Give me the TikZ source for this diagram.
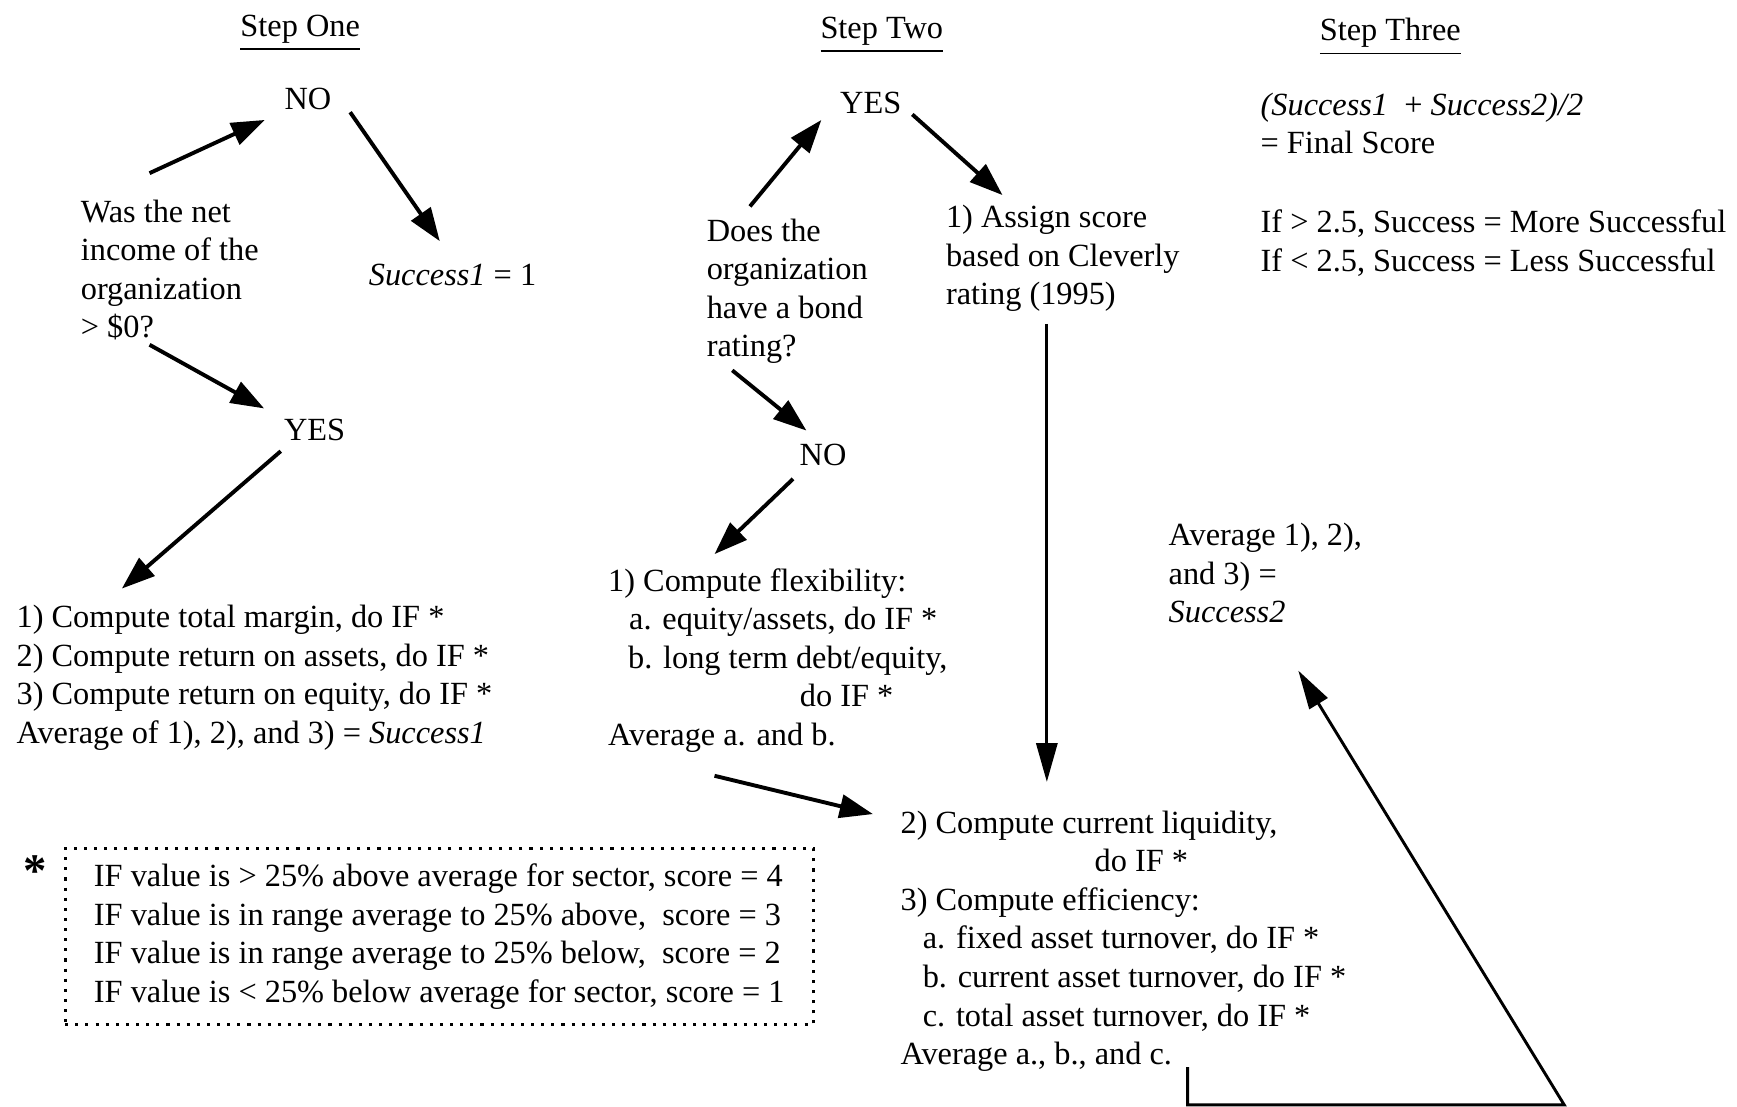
\documentclass[tikz,border=0pt]{standalone}
\usepackage{fontspec}
\setmainfont{Liberation Serif}
\usetikzlibrary{positioning, arrows.meta}
\tikzset{
  txt/.style={inner sep=0pt, outer sep=0pt, align=left, anchor=base west,
              font=\fontsize{8.3}{9.9}\selectfont},
  lbl/.style={inner sep=0pt, outer sep=0pt, anchor=base,
              font=\fontsize{8.3}{9.9}\selectfont},
  head/.style={lbl, font=\fontsize{8.3}{10}\selectfont},
  note/.style={draw, line width=0.8pt, dash pattern=on 0.8pt off 1.8pt, align=left,
               inner xsep=2.6mm, minimum height=15.9mm, font=\fontsize{8.3}{9.9}\selectfont},
  ar/.style={-{Triangle[length=3mm, width=2.1mm]}, line width=1pt},
  arl/.style={-{Triangle[length=3.5mm, width=1.9mm]}, line width=0.75pt},
}

\begin{document}
\begin{tikzpicture}[x=0.01cm, y=-0.01cm]
  \useasboundingbox (0,0) rectangle (1568,999);

  \node[head] (one)   at (271,33)  {\underline{Step One}};
  \node[head] (two)   at (796,35)  {\underline{Step Two}};
  \node[head] (three) at (1255,37) {\underline{Step Three}};

  % step one
  \node[lbl] (no1)  at (278,99)  {NO};
  \node[txt] (q1)   at (73,305)  {Was the net\\income of the\\organization\\> \$0?};
  \node[txt] (s1)   at (333,258) {\textit{Success1} = 1};
  \node[lbl] (yes1) at (284,398) {YES};
  \node[txt] (lst1) at (15,671)  {1) Compute total margin, do IF *\\
    2) Compute return on assets, do IF *\\
    3) Compute return on equity, do IF *\\
    Average of 1), 2), and 3) = \textit{Success1}};

  \node[note] (ifbox) at (396.5,845.5) {IF value is > 25\% above average for sector, score = 4\\
    IF value is in range average to 25\% above,\ \ score = 3\\
    IF value is in range average to 25\% below,\ \ score = 2\\
    IF value is < 25\% below average for sector, score = 1};
  \node[lbl, font=\fontsize{12}{12}\selectfont\bfseries] (star) at (32,800) {*};

  % step two
  \node[lbl] (yes2) at (786,102) {YES};
  \node[txt] (q2)   at (638,322) {Does the\\organization\\have a bond\\rating?};
  \node[txt] (asg)  at (854,275) {1) Assign score\\based on Cleverly\\rating (1995)};
  \node[lbl] (no2)  at (743,420) {NO};
  \node[txt] (flex) at (549,673) {1) Compute flexibility:\\
    \hspace*{1.9mm}a. equity/assets, do IF *\\
    \hspace*{1.8mm}b. long term debt/equity,\\
    \hspace*{17.3mm}do IF *\\
    Average a. and b.};
  \node[txt] (blk)  at (813,961) {2) Compute current liquidity,\\
    \hspace*{17.5mm}do IF *\\
    3) Compute efficiency:\\
    \hspace*{2mm}a. fixed asset turnover, do IF *\\
    \hspace*{2mm}b. current asset turnover, do IF *\\
    \hspace*{2mm}c. total asset turnover, do IF *\\
    Average a., b., and c.};
  \node[txt] (avg2) at (1055,562) {Average 1), 2),\\and 3) =\\\textit{Success2}};

  % step three
  \node[txt] (fin)  at (1138,139) {\textit{(Success1}\ \ + \textit{Success2)/2}\\= Final Score};
  \node[txt] (rule) at (1138,245) {If > 2.5, Success = More Successful\\If < 2.5, Success = Less Successful};

  \draw[ar] ([shift={(62,-24)}]q1.north west) -- ([shift={(-18,9)}]no1.south west);
  \draw[ar] ([shift={(17,2)}]no1.south east) -- ([shift={(64,-21)}]s1.north west);
  \draw[ar] ([shift={(62,4)}]q1.south west) -- ([shift={(-18,-10)}]yes1.north west);
  \draw[ar] ([shift={(-3,9)}]yes1.south west) -- ([shift={(95,-15)}]lst1.north west);
  \draw[ar] ([shift={(39,-11)}]q2.north west) -- ([shift={(-17,6)}]yes2.south west);
  \draw[ar] ([shift={(10,1)}]yes2.south east) -- ([shift={(51,-9)}]asg.north west);
  \draw[ar] ([shift={(23,6)}]q2.south west) -- ([shift={(-15,-12)}]no2.north);
  \draw[ar] ([shift={(-6,12)}]no2.south west) -- ([shift={(96,-13)}]flex.north west);
  \draw[ar] ([shift={(96,21)}]flex.south west) -- ([shift={(-25,3)}]blk.north west);
  \draw[arl] ([shift={(91,11)}]asg.south west) -- ([shift={(132,-26)}]blk.north west);
  \draw[arl] ([shift={(259,-4)}]blk.south west) -- ++(0,34) -- ++(340,0)
    -- ([shift={(117,43)}]avg2.south west);
\end{tikzpicture}
\end{document}
